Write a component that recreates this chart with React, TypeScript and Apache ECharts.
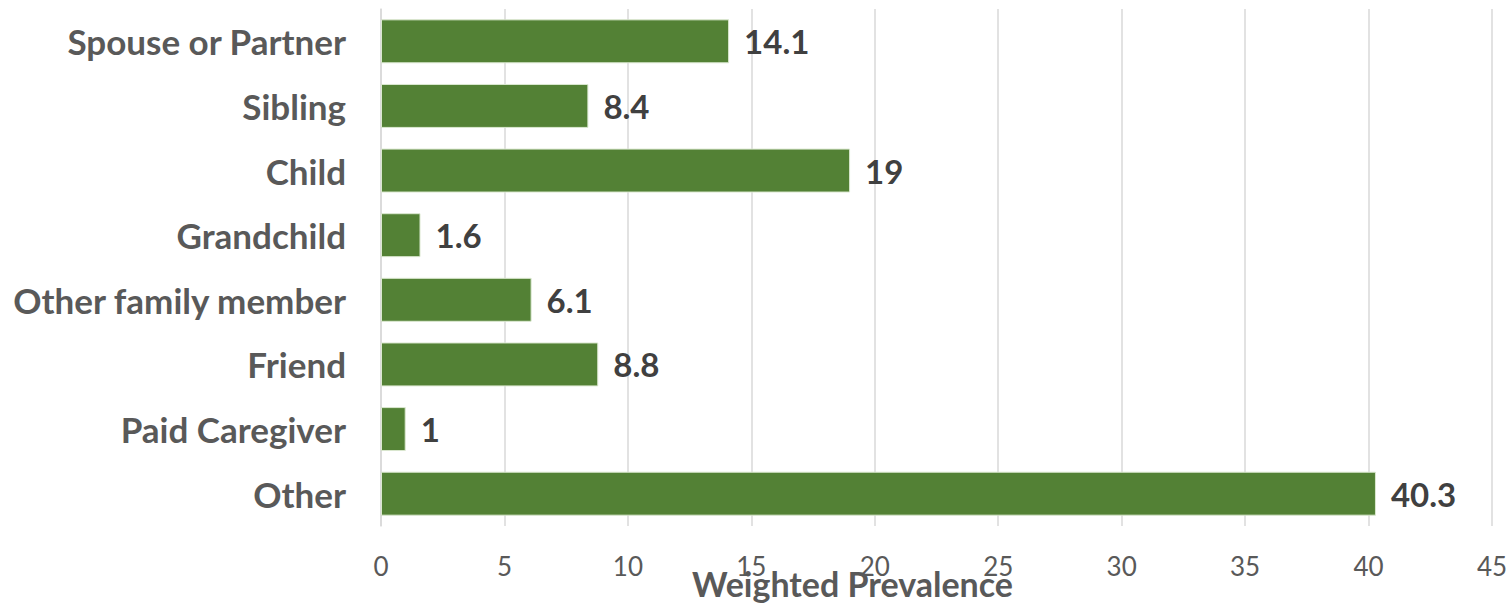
import React, { useEffect, useRef } from "react";
import * as echarts from "echarts";

const categories = [
  "Spouse or Partner",
  "Sibling",
  "Child",
  "Grandchild",
  "Other family member",
  "Friend",
  "Paid Caregiver",
  "Other",
];
const values = [14.1, 8.4, 19, 1.6, 6.1, 8.8, 1, 40.3];
const axisName = "Weighted Prevalence";

const FONT = "Lato, 'Open Sans', sans-serif";

export default function App() {
  const ref = useRef<HTMLDivElement>(null);
  useEffect(() => {
    const chart = echarts.init(ref.current!, null, { renderer: "svg" });
    chart.setOption({
      animation: false,
      grid: { left: 381, right: 18, top: 9, bottom: 79, containLabel: false, outerBoundsMode: "none" },
      xAxis: {
        type: "value",
        min: 0,
        max: 45,
        interval: 5,
        name: axisName,
        nameLocation: "middle",
        nameGap: 40,
        nameMoveOverlap: false,
        nameTextStyle: {
          fontFamily: FONT,
          fontSize: 34,
          fontWeight: "bold",
          color: "#595959",
          verticalAlign: "top",
          padding: [0, 168, 0, 0],
        },
        axisLine: { show: false },
        axisTick: { show: false },
        axisLabel: { fontFamily: FONT, fontSize: 26, color: "#595959", margin: 27 },
        splitLine: { lineStyle: { color: "#d9d9d9", width: 1.5 } },
      },
      yAxis: {
        type: "category",
        data: categories,
        inverse: true,
        axisLine: { show: true, lineStyle: { color: "#d9d9d9", width: 1.5 } },
        axisTick: { show: false },
        axisLabel: { fontFamily: FONT, fontSize: 35, fontWeight: "bold", color: "#595959", margin: 35 },
      },
      series: [
        {
          type: "bar",
          data: values,
          barCategoryGap: "32%",
          itemStyle: { color: "#538135", borderColor: "#dbe8d0", borderWidth: 1 },
          label: {
            show: true,
            position: "right",
            distance: 15,
            fontFamily: FONT,
            fontSize: 33,
            fontWeight: "bold",
            color: "#404040",
          },
        },
      ],
    });
    return () => chart.dispose();
  }, []);
  return <div ref={ref} style={{ width: 1510, height: 605, position: "absolute", left: 0, top: 0 }} />;
}
